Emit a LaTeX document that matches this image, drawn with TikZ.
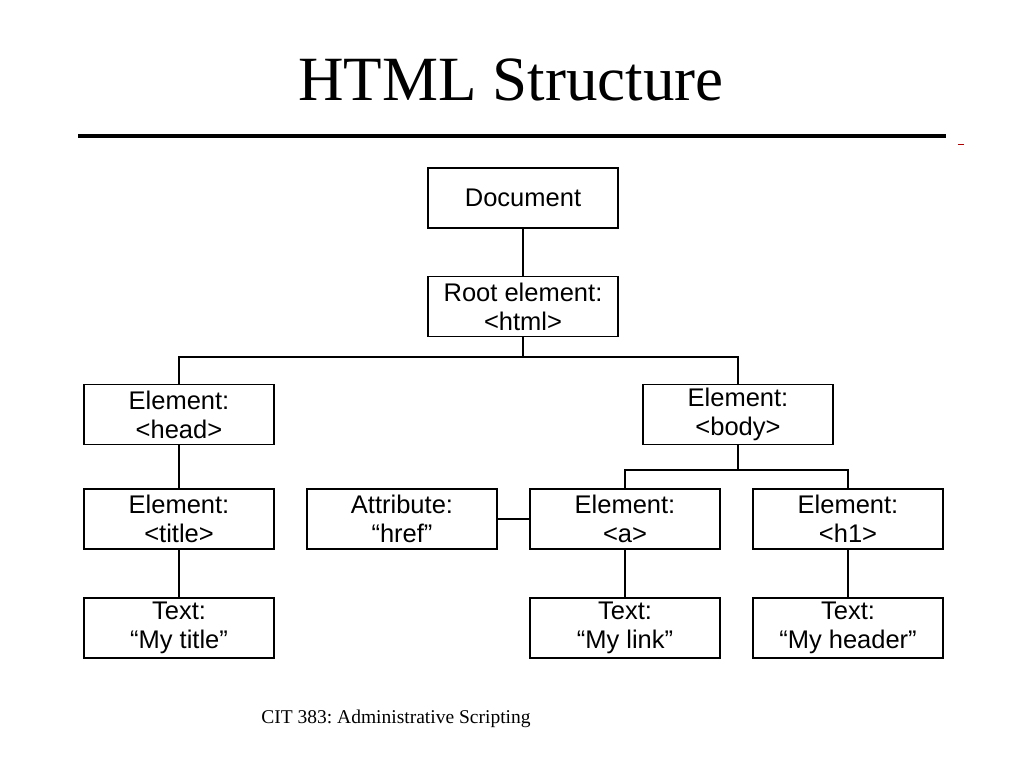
\documentclass[tikz,border=0pt]{standalone}
\usepackage{fontspec}
\setmainfont{Liberation Serif}
\newfontfamily\boxfont{Liberation Sans}
\usetikzlibrary{positioning}
\frenchspacing
\tikzset{
    %Define style for boxes
    treebox/.style={
           rectangle,
           draw=black, line width=1.6pt,
           minimum width=190pt,
           minimum height=60pt,
           inner sep=0pt,
           align=center,
           font=\boxfont\fontsize{25.5}{29}\selectfont,
           text centered},
    % Define connector style
    link/.style={
           line width=1.6pt}
}
\begin{document}
\begin{tikzpicture}[x=1pt,y=1pt]
\useasboundingbox (0,0) rectangle (1024,768);
\node[font=\fontsize{63}{66}\selectfont](heading) at (511,688){HTML Structure};
\draw[line width=3.5pt] (78,632) -- (946,632);
\draw[red!70!black, line width=1pt] (958,623) -- (964,623);
\node[treebox](doc) at (523,570){Document};
\node[treebox, below=47pt of doc](root){Root element:\\<html>};
\node[treebox](head) at (179,353.5){Element:\\<head>};
\node[treebox](body) at (738,353.5){Element:\\<body>};
\node[treebox](title) at (179,249){Element:\\<title>};
\node[treebox](attr) at (402,249){Attribute:\\“href”};
\node[treebox](anchor) at (625,249){Element:\\<a>};
\node[treebox](hone) at (848,249){Element:\\<h1>};
\node[treebox](titletext) at (179,140){Text:\\“My title”};
\node[treebox](linktext) at (625,140){Text:\\“My link”};
\node[treebox](headertext) at (848,140){Text:\\“My header”};
\node[font=\fontsize{19.5}{21}\selectfont](footer) at (396,49){CIT 383: Administrative Scripting};
\coordinate (rootsplit) at (root.south |- 0,411);
\coordinate (bodysplit) at (body.south |- 0,298);
\draw[link] (doc) -- (root);
\draw[link] (root.south) -- (rootsplit);
\draw[link] (head.north) |- (rootsplit) -| (body.north);
\draw[link] (body.south) -- (bodysplit);
\draw[link] (anchor.north) |- (bodysplit) -| (hone.north);
\draw[link] (head) -- (title);
\draw[link] (title) -- (titletext);
\draw[link] (attr) -- (anchor);
\draw[link] (anchor) -- (linktext);
\draw[link] (hone) -- (headertext);
\end{tikzpicture}
\end{document}
